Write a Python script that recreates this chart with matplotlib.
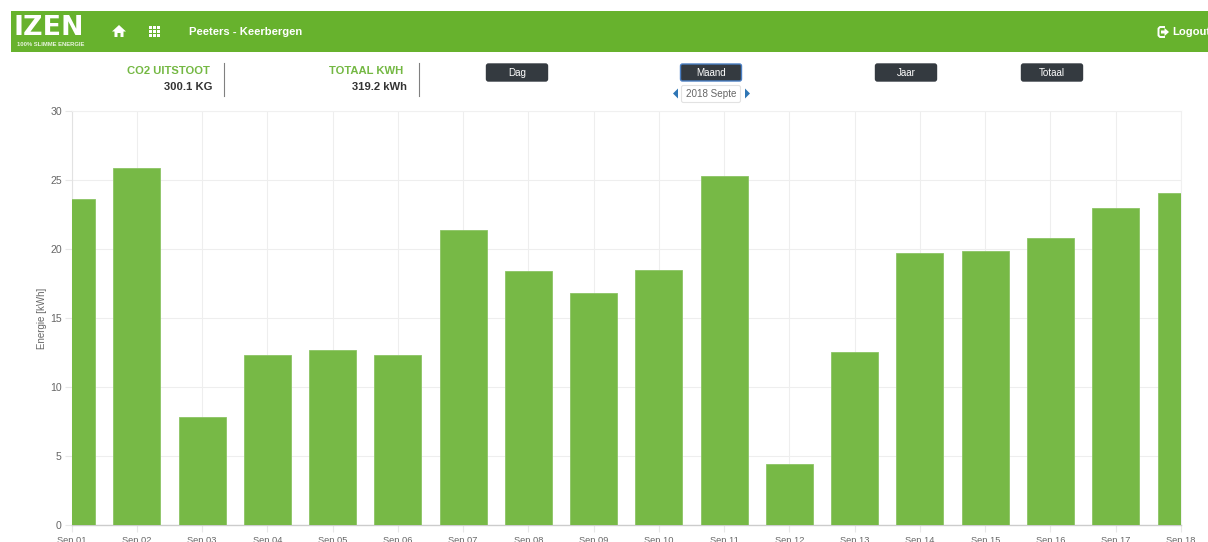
import matplotlib
matplotlib.use('Agg')
import matplotlib.pyplot as plt
from matplotlib.patches import Rectangle, FancyBboxPatch, Polygon

plt.rcParams['font.family'] = ['Liberation Sans', 'DejaVu Sans']

days = ['Sep 01', 'Sep 02', 'Sep 03', 'Sep 04', 'Sep 05', 'Sep 06', 'Sep 07', 'Sep 08', 'Sep 09',
        'Sep 10', 'Sep 11', 'Sep 12', 'Sep 13', 'Sep 14', 'Sep 15', 'Sep 16', 'Sep 17', 'Sep 18']
energy = [23.6, 25.9, 7.8, 12.3, 12.7, 12.3, 21.4, 18.4, 16.8,
          18.45, 25.3, 4.4, 12.55, 19.7, 19.85, 20.8, 22.95, 24.05]
y_ticks = [0, 5, 10, 15, 20, 25, 30]
buttons = ['Dag', 'Maand', 'Jaar', 'Totaal']
button_left = [486, 680, 875, 1021]

GREEN = '#67b22d'
W, H = 1208, 542

fig = plt.figure(figsize=(W / 100, H / 100), dpi=100)

# the chart itself
ax = fig.add_axes([71.5 / W, 1 - 525 / H, 1109.5 / W, 414 / H])
ax.bar(range(len(days)), energy, width=0.72, color='#77b946', edgecolor='#8cc465', linewidth=0.6, zorder=3)
ax.set_xlim(0, len(days) - 1)
ax.set_ylim(0, 30)
ax.set_xticks(range(len(days)))
ax.set_xticklabels(days)
ax.set_yticks(y_ticks)
ax.grid(True, color='#eeeeee', linewidth=0.8, zorder=0)
ax.tick_params(colors='#666666', length=5, width=0.8, color='#e8e8e8', pad=3)
ax.tick_params(axis='x', labelsize=6.7)
ax.tick_params(axis='y', labelsize=7.6, pad=2)
ax.set_ylabel('Energie [kWh]', fontsize=7, color='#666666', labelpad=2.5)
for side in ['top', 'right']:
    ax.spines[side].set_color('#f0f0f0')
    ax.spines[side].set_linewidth(0.8)
ax.spines['left'].set_color('#e2e2e2')
ax.spines['bottom'].set_color('#cccccc')
ax.spines['bottom'].set_linewidth(1.0)

# page stuff around the chart, in pixels
ui = fig.add_axes([0, 0, 1, 1], zorder=5)
ui.set_xlim(0, W)
ui.set_ylim(H, 0)
ui.axis('off')
ui.patch.set_alpha(0)

ui.add_patch(Rectangle((11, 11), W - 11, 41, color=GREEN, linewidth=0))
ui.text(14, 28, 'IZEN', color='white', fontsize=19.4, fontweight='bold', va='center', ha='left',
        family='DejaVu Sans')
ui.text(17, 44, '100% SLIMME ENERGIE', color='#e9f4df', fontsize=4.2, fontweight='bold', va='center')

# home icon
ui.add_patch(Polygon([(112, 31.5), (119, 25), (126, 31.5), (123.5, 31.5), (123.5, 37), (120.5, 37),
                      (120.5, 33), (117.5, 33), (117.5, 37), (114.5, 37), (114.5, 31.5)],
                     color='white', linewidth=0))
# grid icon
for i in range(3):
    for j in range(3):
        ui.add_patch(Rectangle((149 + i * 4, 26 + j * 4), 3, 3, color='white', linewidth=0))

ui.text(189, 32, 'Peeters - Keerbergen', color='white', fontsize=8.1, fontweight='bold', va='center')
ui.text(1172, 32, 'Logout', color='white', fontsize=8.1, fontweight='bold', va='center', clip_on=True)
ui.plot([1164, 1160, 1158.5, 1158.5, 1160, 1164], [27, 27, 28.5, 35.5, 37, 37], color='white', linewidth=1.4)
ui.add_patch(Polygon([(1161, 30.5), (1164.5, 30.5), (1164.5, 28), (1169, 32), (1164.5, 36),
                      (1164.5, 33.5), (1161, 33.5)], color='white', linewidth=0))

# totals
ui.text(209.5, 71.5, 'CO2 UITSTOOT', color='#74b843', fontsize=8.1, fontweight='bold', ha='right', va='center')
ui.text(212, 87, '300.1 KG', color='#333333', fontsize=8.1, fontweight='bold', ha='right', va='center')
ui.plot([223.5, 223.5], [63, 96], color='#808080', linewidth=0.8)
ui.text(403.5, 71.5, 'TOTAAL KWH', color='#74b843', fontsize=8.1, fontweight='bold', ha='right', va='center')
ui.text(406.5, 87, '319.2 kWh', color='#333333', fontsize=8.1, fontweight='bold', ha='right', va='center')
ui.plot([418.5, 418.5], [63, 96], color='#808080', linewidth=0.8)

# period buttons
for name, left in zip(buttons, button_left):
    edge = '#4a7fc4' if name == 'Maand' else '#343a40'
    ui.add_patch(FancyBboxPatch((left + 0.5, 64), 61, 17, boxstyle='round,pad=0,rounding_size=2',
                                facecolor='#343a40', edgecolor=edge, linewidth=1))
    ui.text(left + 31, 72.5, name, color='white', fontsize=7.1, ha='center', va='center')

# month picker
picker = FancyBboxPatch((681.5, 85.5), 59, 17, boxstyle='round,pad=0,rounding_size=2',
                        facecolor='white', edgecolor='#e2e2e2', linewidth=0.8)
ui.add_patch(picker)
label = ui.text(685.5, 94, '2018 September', color='#666666', fontsize=7.1, va='center')
label.set_clip_on(True)
label.set_clip_path(Rectangle((682, 86), 55, 16, transform=ui.transData))
ui.add_patch(Polygon([(678, 88.5), (678, 98.5), (673, 93.5)], color='#2f76b5', linewidth=0))
ui.add_patch(Polygon([(745, 88.5), (745, 98.5), (750, 93.5)], color='#2f76b5', linewidth=0))

fig.savefig('out.png', dpi=100)
